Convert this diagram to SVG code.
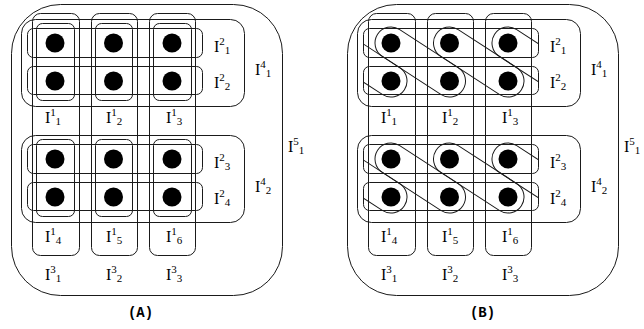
<svg xmlns="http://www.w3.org/2000/svg" width="644" height="329" viewBox="0 0 644 329">
<style>
.box{fill:none;stroke:#1a1a1a;stroke-width:1}
.dot{fill:#000}
.lbl{font-family:"Liberation Serif","Times New Roman",serif;font-size:16px;fill:#000}
.d{font-size:11px}
.ttl{font-family:"Liberation Mono","Courier New",monospace;font-size:14px;font-weight:bold;fill:#000;text-anchor:middle}
</style>
<defs>
<clipPath id="clipB" clipPathUnits="userSpaceOnUse"><rect x="27" y="0" width="175.5" height="329"/></clipPath>
<rect id="cap" x="-16" y="-16" width="101.76" height="32" rx="16" ry="16"/>
</defs>
<rect width="644" height="329" fill="#fff"/>

<!-- Panel A -->
<g id="panelA">
  <g id="A-I5_1"><rect class="box" x="11.5" y="4.5" width="271" height="291" rx="49"/><text class="lbl" x="288" y="152">I<tspan class="d" dy="-7">5</tspan><tspan class="d" dy="9">1</tspan></text></g>
  <g id="A-I4_1"><rect class="box" x="21.5" y="19.5" width="223" height="87" rx="14"/><text class="lbl" x="255" y="75">I<tspan class="d" dy="-7">4</tspan><tspan class="d" dy="9">1</tspan></text></g>
  <g id="A-I4_2"><rect class="box" x="21.5" y="135.5" width="223" height="87" rx="14"/><text class="lbl" x="255" y="192">I<tspan class="d" dy="-7">4</tspan><tspan class="d" dy="9">2</tspan></text></g>
  <g id="A-col1"><rect class="box" x="32.5" y="13.5" width="47" height="242" rx="8"/><text class="lbl" x="45" y="123">I<tspan class="d" dy="-7">1</tspan><tspan class="d" dy="9">1</tspan></text><text class="lbl" x="45" y="242">I<tspan class="d" dy="-7">1</tspan><tspan class="d" dy="9">4</tspan></text><text class="lbl" x="45" y="280">I<tspan class="d" dy="-7">3</tspan><tspan class="d" dy="9">1</tspan></text></g>
  <g id="A-col2"><rect class="box" x="91.5" y="13.5" width="46" height="242" rx="8"/><text class="lbl" x="106" y="123">I<tspan class="d" dy="-7">1</tspan><tspan class="d" dy="9">2</tspan></text><text class="lbl" x="106" y="242">I<tspan class="d" dy="-7">1</tspan><tspan class="d" dy="9">5</tspan></text><text class="lbl" x="106" y="280">I<tspan class="d" dy="-7">3</tspan><tspan class="d" dy="9">2</tspan></text></g>
  <g id="A-col3"><rect class="box" x="149.5" y="13.5" width="46" height="242" rx="8"/><text class="lbl" x="166" y="123">I<tspan class="d" dy="-7">1</tspan><tspan class="d" dy="9">3</tspan></text><text class="lbl" x="166" y="242">I<tspan class="d" dy="-7">1</tspan><tspan class="d" dy="9">6</tspan></text><text class="lbl" x="166" y="280">I<tspan class="d" dy="-7">3</tspan><tspan class="d" dy="9">3</tspan></text></g>
  <g id="A-I2_1"><rect class="box" x="27.5" y="28.5" width="175" height="29" rx="6"/><text class="lbl" x="214" y="52">I<tspan class="d" dy="-7">2</tspan><tspan class="d" dy="9">1</tspan></text></g>
  <g id="A-I2_2"><rect class="box" x="27.5" y="66.5" width="175" height="28" rx="6"/><text class="lbl" x="214" y="88">I<tspan class="d" dy="-7">2</tspan><tspan class="d" dy="9">2</tspan></text></g>
  <g id="A-I2_3"><rect class="box" x="27.5" y="144.5" width="175" height="29" rx="6"/><text class="lbl" x="214" y="168">I<tspan class="d" dy="-7">2</tspan><tspan class="d" dy="9">3</tspan></text></g>
  <g id="A-I2_4"><rect class="box" x="27.5" y="182.5" width="175" height="28" rx="6"/><text class="lbl" x="214" y="204">I<tspan class="d" dy="-7">2</tspan><tspan class="d" dy="9">4</tspan></text></g>
  <g id="A-blocks">
    <rect class="box" x="36.5" y="23.5" width="38" height="77" rx="6"/>
    <rect class="box" x="95.5" y="23.5" width="37" height="77" rx="6"/>
    <rect class="box" x="153.5" y="23.5" width="38" height="77" rx="6"/>
    <rect class="box" x="36.5" y="139.5" width="38" height="77" rx="6"/>
    <rect class="box" x="95.5" y="139.5" width="37" height="77" rx="6"/>
    <rect class="box" x="153.5" y="139.5" width="38" height="77" rx="6"/>
  </g>
  <g id="A-dots">
    <circle class="dot" cx="55" cy="43" r="9.5"/><circle class="dot" cx="113.5" cy="43" r="9.5"/><circle class="dot" cx="172" cy="43" r="9.5"/>
    <circle class="dot" cx="55" cy="81" r="9.5"/><circle class="dot" cx="113.5" cy="81" r="9.5"/><circle class="dot" cx="172" cy="81" r="9.5"/>
    <circle class="dot" cx="55" cy="159" r="9.5"/><circle class="dot" cx="113.5" cy="159" r="9.5"/><circle class="dot" cx="172" cy="159" r="9.5"/>
    <circle class="dot" cx="55" cy="197" r="9.5"/><circle class="dot" cx="113.5" cy="197" r="9.5"/><circle class="dot" cx="172" cy="197" r="9.5"/>
  </g>
  <text id="A-title" class="ttl" x="140.5" y="317">(A)</text>
</g>

<!-- Panel B -->
<g id="panelB" transform="translate(336,0)">
  <g id="B-I5_1"><rect class="box" x="11.5" y="4.5" width="271" height="291" rx="49"/><text class="lbl" x="288" y="152">I<tspan class="d" dy="-7">5</tspan><tspan class="d" dy="9">1</tspan></text></g>
  <g id="B-I4_1"><rect class="box" x="21.5" y="19.5" width="223" height="87" rx="14"/><text class="lbl" x="255" y="75">I<tspan class="d" dy="-7">4</tspan><tspan class="d" dy="9">1</tspan></text></g>
  <g id="B-I4_2"><rect class="box" x="21.5" y="135.5" width="223" height="87" rx="14"/><text class="lbl" x="255" y="192">I<tspan class="d" dy="-7">4</tspan><tspan class="d" dy="9">2</tspan></text></g>
  <g id="B-col1"><rect class="box" x="32.5" y="13.5" width="47" height="242" rx="8"/><text class="lbl" x="45" y="123">I<tspan class="d" dy="-7">1</tspan><tspan class="d" dy="9">1</tspan></text><text class="lbl" x="45" y="242">I<tspan class="d" dy="-7">1</tspan><tspan class="d" dy="9">4</tspan></text><text class="lbl" x="45" y="280">I<tspan class="d" dy="-7">3</tspan><tspan class="d" dy="9">1</tspan></text></g>
  <g id="B-col2"><rect class="box" x="91.5" y="13.5" width="46" height="242" rx="8"/><text class="lbl" x="106" y="123">I<tspan class="d" dy="-7">1</tspan><tspan class="d" dy="9">2</tspan></text><text class="lbl" x="106" y="242">I<tspan class="d" dy="-7">1</tspan><tspan class="d" dy="9">5</tspan></text><text class="lbl" x="106" y="280">I<tspan class="d" dy="-7">3</tspan><tspan class="d" dy="9">2</tspan></text></g>
  <g id="B-col3"><rect class="box" x="149.5" y="13.5" width="46" height="242" rx="8"/><text class="lbl" x="166" y="123">I<tspan class="d" dy="-7">1</tspan><tspan class="d" dy="9">3</tspan></text><text class="lbl" x="166" y="242">I<tspan class="d" dy="-7">1</tspan><tspan class="d" dy="9">6</tspan></text><text class="lbl" x="166" y="280">I<tspan class="d" dy="-7">3</tspan><tspan class="d" dy="9">3</tspan></text></g>
  <g id="B-I2_1"><rect class="box" x="27.5" y="28.5" width="175" height="29" rx="6"/><text class="lbl" x="214" y="52">I<tspan class="d" dy="-7">2</tspan><tspan class="d" dy="9">1</tspan></text></g>
  <g id="B-I2_2"><rect class="box" x="27.5" y="66.5" width="175" height="28" rx="6"/><text class="lbl" x="214" y="88">I<tspan class="d" dy="-7">2</tspan><tspan class="d" dy="9">2</tspan></text></g>
  <g id="B-I2_3"><rect class="box" x="27.5" y="144.5" width="175" height="29" rx="6"/><text class="lbl" x="214" y="168">I<tspan class="d" dy="-7">2</tspan><tspan class="d" dy="9">3</tspan></text></g>
  <g id="B-I2_4"><rect class="box" x="27.5" y="182.5" width="175" height="28" rx="6"/><text class="lbl" x="214" y="204">I<tspan class="d" dy="-7">2</tspan><tspan class="d" dy="9">4</tspan></text></g>
  <g id="B-blocks" clip-path="url(#clipB)">
    <use href="#cap" class="box" transform="translate(55,43) rotate(33)"/>
    <use href="#cap" class="box" transform="translate(113.5,43) rotate(33)"/>
    <use href="#cap" class="box" transform="translate(172,43) rotate(33)"/>
    <use href="#cap" class="box" transform="translate(-3.5,43) rotate(33)"/>
    <use href="#cap" class="box" transform="translate(55,159) rotate(33)"/>
    <use href="#cap" class="box" transform="translate(113.5,159) rotate(33)"/>
    <use href="#cap" class="box" transform="translate(172,159) rotate(33)"/>
    <use href="#cap" class="box" transform="translate(-3.5,159) rotate(33)"/>
  </g>
  <g id="B-dots">
    <circle class="dot" cx="55" cy="43" r="9.5"/><circle class="dot" cx="113.5" cy="43" r="9.5"/><circle class="dot" cx="172" cy="43" r="9.5"/>
    <circle class="dot" cx="55" cy="81" r="9.5"/><circle class="dot" cx="113.5" cy="81" r="9.5"/><circle class="dot" cx="172" cy="81" r="9.5"/>
    <circle class="dot" cx="55" cy="159" r="9.5"/><circle class="dot" cx="113.5" cy="159" r="9.5"/><circle class="dot" cx="172" cy="159" r="9.5"/>
    <circle class="dot" cx="55" cy="197" r="9.5"/><circle class="dot" cx="113.5" cy="197" r="9.5"/><circle class="dot" cx="172" cy="197" r="9.5"/>
  </g>
  <text id="B-title" class="ttl" x="146.5" y="317">(B)</text>
</g>
<g id="connectors"/>
</svg>
